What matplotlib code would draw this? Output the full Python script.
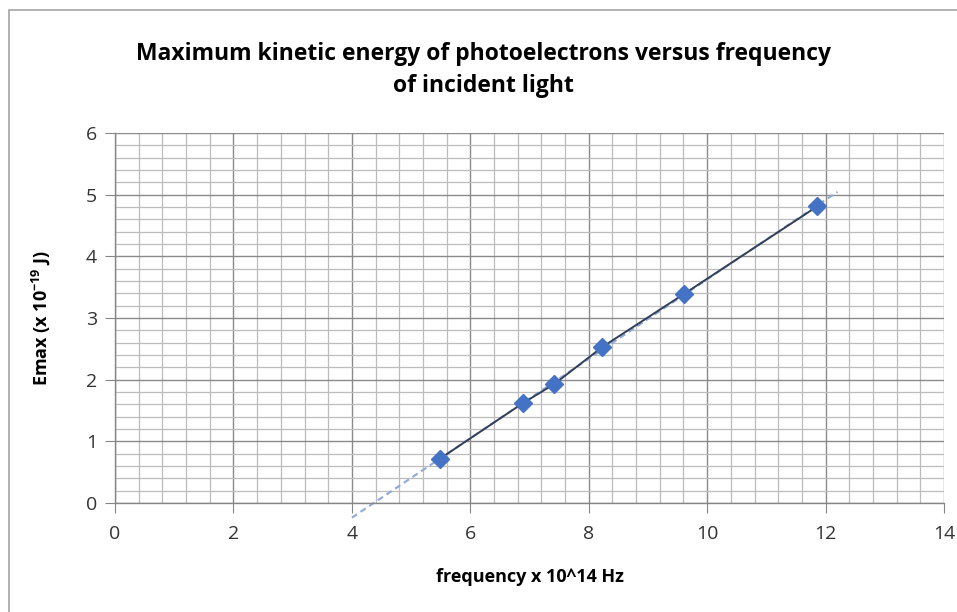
import numpy as np
import matplotlib.pyplot as plt
from matplotlib.patches import Rectangle
from matplotlib.ticker import MultipleLocator

# frequency (x 10^14 Hz) and Emax (x 10^-19 J)
freq = [5.49, 6.89, 7.42, 8.23, 9.61, 11.86]
emax = [0.72, 1.62, 1.93, 2.53, 3.39, 4.81]

# trendline forecast range
trend_x = [4.0, 12.2]

plt.rcParams['font.family'] = ['Open Sans', 'DejaVu Sans']
plt.rcParams['mathtext.default'] = 'regular'

fig = plt.figure(figsize=(9.57, 6.12), dpi=100)
ax = fig.add_axes([0.1202, 0.1781, 0.8662, 0.6046])

# outer chart border (only top/left visible in the crop)
fig.patches.append(Rectangle((9 / 957, -0.1), 1.2, 1.1 - 10 / 612,
                             transform=fig.transFigure, fill=False,
                             edgecolor='#a6a6a6', lw=1.2))

ax.set_xlim(0, 14)
ax.set_ylim(0, 6)
ax.xaxis.set_major_locator(MultipleLocator(2))
ax.xaxis.set_minor_locator(MultipleLocator(0.4))
ax.yaxis.set_major_locator(MultipleLocator(1))
ax.yaxis.set_minor_locator(MultipleLocator(0.2))

ax.grid(which='minor', color='#bcbcbc', lw=0.9)
ax.grid(which='major', color='#8a8a8a', lw=1.0)
ax.set_axisbelow(True)

for s in ['top', 'right']:
    ax.spines[s].set_visible(False)
for s in ['left', 'bottom']:
    ax.spines[s].set_color('#868686')
    ax.spines[s].set_linewidth(1.0)

ax.tick_params(which='major', length=7, color='#868686', labelsize=14,
               labelcolor='#333333', pad=6)
ax.tick_params(axis='x', which='major', pad=9)
ax.tick_params(which='minor', length=0)

# linear fit, extended backward/forward
slope, icpt = np.polyfit(freq, emax, 1)
tx = np.array(trend_x)
ax.plot(tx, slope * tx + icpt, linestyle=(0, (3, 2)), color='#8eaadb', lw=1.5,
        zorder=2, clip_on=False)

ax.plot(freq, emax, color='#333f57', lw=1.4, zorder=3, clip_on=False)
ax.plot(freq, emax, linestyle='none', marker='D', markersize=9,
        color='#4472c4', zorder=4)

ax.set_xlabel('frequency x 10^14 Hz', fontsize=13, fontweight='bold', labelpad=18)
ax.set_ylabel('Emax (x 10$^{-19}$ J)', fontsize=13, fontweight='bold', labelpad=24)

fig.text(0.505, 0.885, 'Maximum kinetic energy of photoelectrons versus frequency\nof incident light',
         ha='center', va='center', fontsize=16.5, fontweight='bold', linespacing=1.45,
         color='#000000')

fig.savefig('out.png', dpi=100)
